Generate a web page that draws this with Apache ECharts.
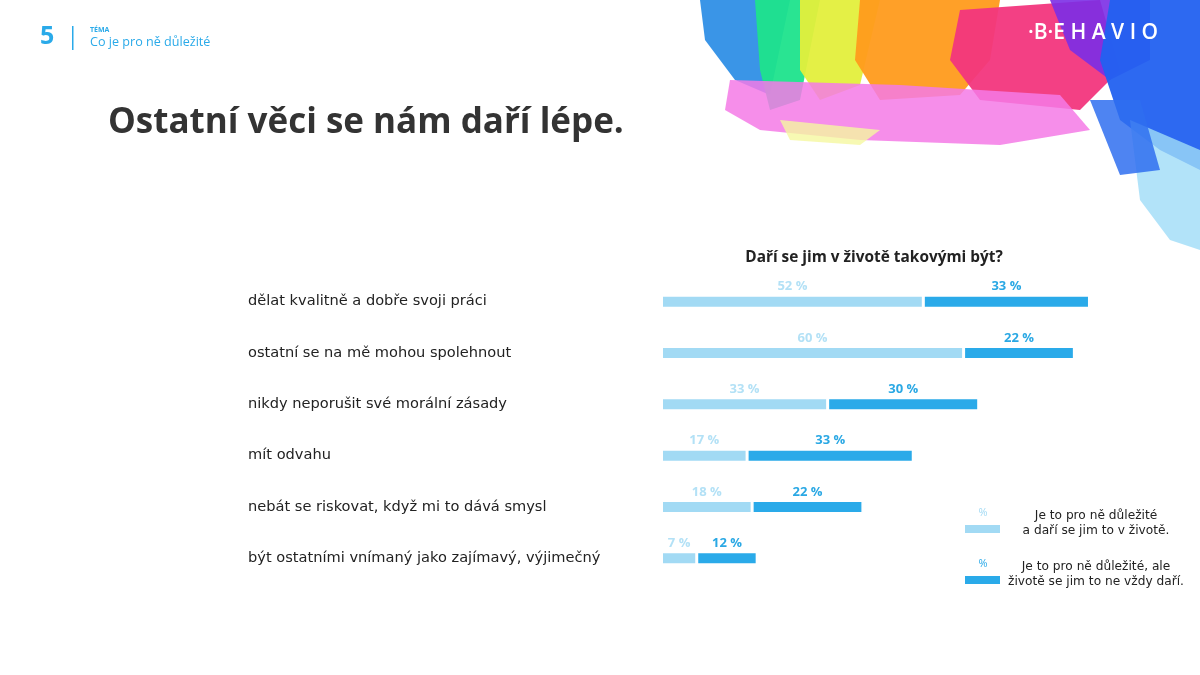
<!DOCTYPE html>
<html>
<head>
<meta charset="utf-8">
<script src="https://cdn.jsdelivr.net/npm/echarts@6/dist/echarts.min.js"></script>
<style>
  html, body { margin: 0; padding: 0; background: #fff; }
  #chart { width: 1200px; height: 675px; }
</style>
</head>
<body>
<div id="chart"></div>
<script>
const categories = [
  'dělat kvalitně a dobře svoji práci',
  'ostatní se na mě mohou spolehnout',
  'nikdy neporušit své morální zásady',
  'mít odvahu',
  'nebát se riskovat, když mi to dává smysl',
  'být ostatními vnímaný jako zajímavý, výjimečný'
];
const seriesNames = [
  'Je to pro ně důležité\na daří se jim to v životě.',
  'Je to pro ně důležité, ale\nživotě se jim to ne vždy daří.'
];
const succeeds = [52, 60, 33, 17, 18, 7];
const notAlways = [33, 22, 30, 33, 22, 12];

const LIGHT = '#a2daf4';
const DARK = '#2aaae9';
const FONT = '"DejaVu Sans", "Open Sans", sans-serif';
const HEAD = '"Open Sans", "Noto Sans", sans-serif';

const chart = echarts.init(document.getElementById('chart'));

// decorative paint splash in the top right corner
function splash(points, color, opacity) {
  return {
    type: 'polygon', silent: true, z: -10,
    shape: { points: points },
    style: { fill: color, opacity: opacity }
  };
}
const decor = [
  splash([[700, 0], [790, 0], [770, 95], [735, 80], [705, 40]], '#2f8fe6', 0.95),
  splash([[755, 0], [820, 0], [800, 100], [770, 110], [760, 70]], '#1ee38c', 0.95),
  splash([[800, 0], [880, 0], [860, 85], [820, 100], [800, 70]], '#e3ef3c', 0.95),
  splash([[860, 0], [1000, 0], [990, 60], [960, 95], [880, 100], [855, 60]], '#ff9b1c', 0.95),
  splash([[960, 10], [1100, 0], [1120, 70], [1080, 110], [980, 100], [950, 60]], '#f2367d', 0.95),
  splash([[1050, 0], [1150, 0], [1150, 60], [1110, 80], [1070, 50]], '#7b2de6', 0.9),
  splash([[1110, 0], [1200, 0], [1200, 170], [1160, 150], [1120, 120], [1100, 60]], '#2261f0', 0.95),
  splash([[730, 80], [900, 85], [1060, 95], [1090, 130], [1000, 145], [860, 140], [760, 130], [725, 110]], '#f47ae6', 0.85),
  splash([[1130, 120], [1200, 150], [1200, 250], [1170, 240], [1140, 200]], '#9fdcf7', 0.8),
  splash([[1090, 100], [1140, 100], [1160, 170], [1120, 175]], '#2f6ff0', 0.85),
  splash([[780, 120], [880, 130], [860, 145], [790, 140]], '#f5f7a0', 0.8)
];

const option = {
  backgroundColor: '#fff',
  textStyle: { fontFamily: FONT },
  animation: false,
  grid: { left: 661.5, right: 35, top: 276, bottom: 91 },
  xAxis: {
    type: 'value', min: 0, max: 100,
    show: false
  },
  yAxis: {
    type: 'category',
    data: categories,
    inverse: true,
    axisLine: { show: false },
    axisTick: { show: false },
    splitLine: { show: false },
    axisLabel: {
      align: 'left', margin: 413.5,
      color: '#222', fontSize: 14.6, fontFamily: FONT
    }
  },
  legend: {
    orient: 'vertical',
    left: 963, top: 510,
    padding: 0,
    itemWidth: 37, itemHeight: 10, itemGap: 24,
    icon: 'rect',
    selectedMode: false,
    data: seriesNames,
    formatter: function (name) {
      return name.split('\n').map(function (l) { return '{t|' + l + '}'; }).join('\n');
    },
    textStyle: {
      padding: [0, 0, 11, 0],
      rich: {
        t: { width: 180, align: 'center', fontSize: 12.2, color: '#222', lineHeight: 15, fontFamily: FONT }
      }
    }
  },
  series: [
    {
      name: seriesNames[0], type: 'bar', stack: 'all',
      data: succeeds, barWidth: 13,
      itemStyle: { color: LIGHT, borderColor: '#fff', borderWidth: 1.5 },
      label: {
        show: true, position: 'top', distance: 2,
        formatter: '{c} %', color: '#b3e1f6', fontWeight: 'bold', fontSize: 13, fontFamily: HEAD
      }
    },
    {
      name: seriesNames[1], type: 'bar', stack: 'all',
      data: notAlways, barWidth: 13,
      itemStyle: { color: DARK, borderColor: '#fff', borderWidth: 1.5 },
      label: {
        show: true, position: 'top', distance: 2,
        formatter: '{c} %', color: '#2aa8e4', fontWeight: 'bold', fontSize: 13, fontFamily: HEAD
      }
    }
  ],
  graphic: decor.concat([
    { type: 'text', left: 40, top: 24, style: { text: '5', fill: '#2aaae9', font: 'bold 25px ' + HEAD } },
    { type: 'rect', left: 72, top: 26, shape: { width: 1.5, height: 24 }, style: { fill: '#2aaae9' } },
    { type: 'text', left: 90, top: 26, style: { text: 'TÉMA', fill: '#2aaae9', font: 'bold 7px ' + HEAD } },
    { type: 'text', left: 90, top: 36, style: { text: 'Co je pro ně důležité', fill: '#2aaae9', font: '12.6px ' + HEAD } },
    { type: 'text', left: 108, top: 106, style: { text: 'Ostatní věci se nám daří lépe.', fill: '#333', font: 'bold 35px ' + HEAD } },
    { type: 'text', left: 1028, top: 23, style: { text: '·B·E H A V I O', fill: '#fff', font: '600 21px ' + HEAD } },
    { type: 'text', x: 874, y: 258, style: { text: 'Daří se jim v životě takovými být?', fill: '#222', font: 'bold 15.4px ' + HEAD, align: 'center', verticalAlign: 'middle' } },
    { type: 'text', x: 983, y: 513, style: { text: '%', fill: '#a2daf4', font: '11px ' + HEAD, align: 'center', verticalAlign: 'middle' } },
    { type: 'text', x: 983, y: 564, style: { text: '%', fill: '#2aaae9', font: '11px ' + HEAD, align: 'center', verticalAlign: 'middle' } }
  ])
};

chart.setOption(option);
</script>
</body>
</html>
